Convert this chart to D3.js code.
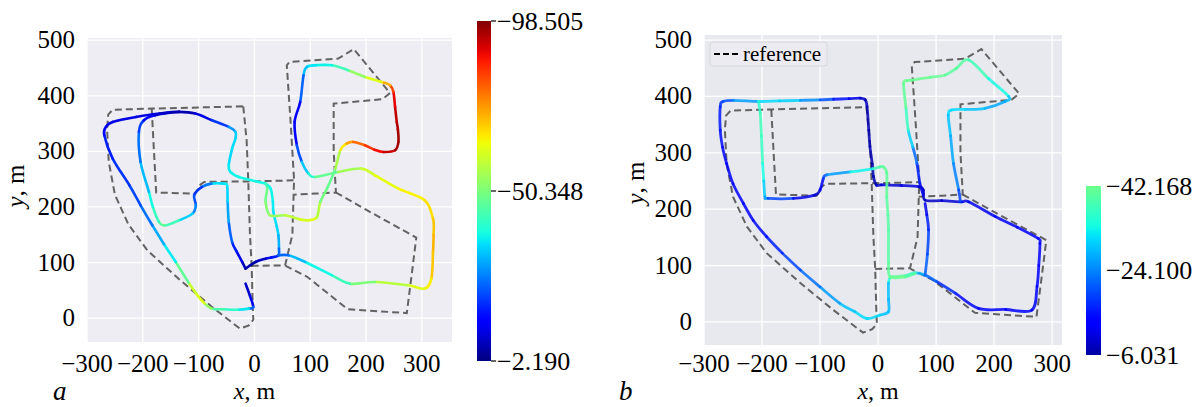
<!DOCTYPE html>
<html>
<head>
<meta charset="utf-8">
<script src="https://cdn.jsdelivr.net/npm/d3@7"></script>
<style>
  body { margin: 0; background: #fff; }
  text { font-family: "Liberation Serif", "Times New Roman", serif; fill: #000; }
</style>
</head>
<body>
<svg id="chart"></svg>
<script>
// ---- data (metres, value in colour-bar units) ----
var xTicks = [-300, -200, -100, 0, 100, 200, 300];
var yTicks = [0, 100, 200, 300, 400, 500];

// reference route, drawn dashed
var refOuter = [[-20, 381], [-14, 320], [-11, 246], [-8, 150], [-5, 95], [-3, 20], [-2, -3], [-10, -13], [-26, -19],
  [-77, 21], [-134, 69], [-192, 122], [-226, 169], [-250, 222], [-261, 281], [-264, 340], [-262, 366],
  [-254, 375], [-183, 377], [-100, 379], [-20, 381]];
var refInner = [[-184, 376], [-180, 300], [-176, 226], [-106, 224], [-97, 240], [-90, 245], [-11, 246], [40, 247], [70, 248]];
var refUpper = [[-5, 94], [55, 95], [68, 150], [71, 249], [65, 350], [58, 455], [63, 461], [150, 467], [178, 484],
  [243, 405], [230, 394], [142, 386], [142, 300], [146, 226], [110, 224], [70, 222]];
var refLowerRight = [[146, 226], [200, 195], [290, 145], [282, 80], [273, 9], [167, 16], [95, 74], [56, 94]];

// panel a trajectory pieces [x, y, value]
var trajA1 = [[-16, 62, -7], [-8, 40, -9], [-2, 20, -14], [-10, 17, -32], [-30, 15, -40], [-55, 16, -43], [-76, 17, -46],
  [-90, 27, -60], [-105, 45, -64], [-118, 64, -55], [-141, 101, -40], [-162, 133, -33], [-183, 167, -28],
  [-204, 203, -22], [-224, 239, -20], [-254, 287, -18], [-269, 329, -16], [-266, 344, -13], [-254, 353, -9],
  [-212, 362, -12], [-170, 368, -9], [-135, 371, -6], [-106, 368, -7], [-76, 356, -14], [-46, 344, -25],
  [-34, 335, -32], [-34, 323, -36], [-40, 305, -34], [-46, 275, -36], [-43, 263, -37], [-28, 254, -38],
  [8, 245, -38], [20, 242, -38]];
var trajA2 = [[20, 242, -38], [29, 233, -38], [33, 210, -37], [34, 191, -36], [40, 165, -35], [43, 149, -34],
  [44, 125, -28], [43, 113, -20], [30, 109, -14], [20, 107, -10], [2, 101, -6], [-16, 89, -5]];
var trajA3 = [[20, 242, -40], [23, 233, -47], [20, 209, -50], [28, 185, -53], [55, 185, -56], [80, 178, -60],
  [97, 176, -62], [112, 182, -62], [118, 209, -53], [130, 233, -46], [145, 269, -50], [154, 302, -62],
  [165, 314, -70], [177, 317, -76], [198, 311, -82], [215, 303, -87], [231, 299, -90], [252, 302, -95],
  [258, 317, -96], [257, 340, -95], [255, 353, -94], [252, 380, -92], [249, 407, -88], [243, 419, -78],
  [228, 425, -66], [198, 434, -58], [168, 446, -48], [139, 455, -38], [110, 455, -37], [94, 452, -35],
  [88, 437, -30], [82, 389, -17], [72, 353, -10], [76, 311, -16], [85, 281, -28], [97, 260, -38],
  [109, 254, -43], [150, 263, -52], [192, 269, -58], [216, 257, -62], [258, 233, -64], [305, 212, -66],
  [320, 179, -68], [321, 150, -71], [320, 119, -72], [317, 71, -67], [305, 53, -64], [275, 59, -60],
  [216, 65, -55], [171, 62, -46], [139, 77, -40], [91, 101, -36], [61, 113, -28], [43, 113, -20]];
var trajA4 = [[-16, 89, -5], [-22, 101, -8], [-32, 120, -14], [-40, 137, -20], [-46, 173, -27], [-48, 210, -33],
  [-49, 239, -36], [-55, 242, -37], [-77, 242, -34], [-94, 236, -18], [-108, 221, -20], [-105, 203, -24],
  [-111, 188, -30], [-135, 176, -38], [-159, 167, -48], [-171, 173, -45], [-182, 200, -40], [-189, 227, -36],
  [-204, 281, -28], [-207, 335, -22], [-198, 356, -18], [-178, 365, -10], [-150, 370, -7], [-135, 371, -6]];

// panel b trajectory pieces [x, y, value]
var trajB1 = [[21, 80, -40], [18, 69, -30], [18, 40, -28], [18, 18, -28], [3, 12, -30], [-19, 6, -32], [-40, 18, -30],
  [-66, 33, -28], [-100, 62, -24], [-134, 92, -21], [-165, 122, -17], [-192, 151, -15], [-215, 180, -14],
  [-232, 210, -13], [-250, 245, -14], [-261, 281, -14], [-268, 310, -14], [-272, 340, -15], [-272, 382, -16],
  [-267, 391, -18], [-249, 393, -22], [-206, 391, -30], [-170, 392, -32], [-134, 393, -28], [-100, 394, -22],
  [-77, 395, -18], [-50, 396, -12], [-31, 397, -9], [-22, 394, -8], [-19, 382, -7], [-16, 340, -7],
  [-14, 311, -7], [-10, 280, -7], [-8, 258, -7], [-3, 243, -8], [6, 243, -9], [40, 242, -10], [70, 240, -10],
  [78, 234, -8], [81, 216, -8], [110, 215, -9], [144, 213, -10], [156, 213, -11], [202, 187, -12],
  [240, 168, -12], [276, 148, -13], [279, 139, -13], [277, 100, -13], [274, 63, -13], [265, 21, -13],
  [220, 22, -13], [173, 24, -13], [133, 51, -15], [100, 72, -19], [81, 83, -24], [64, 87, -32], [47, 82, -40],
  [21, 80, -42]];
var trajB2 = [[-206, 391, -34], [-203, 370, -38], [-201, 330, -38], [-199, 281, -36], [-197, 250, -32],
  [-195, 222, -28], [-190, 219, -24], [-146, 219, -14], [-109, 225, -8], [-100, 234, -10], [-94, 255, -18],
  [-88, 261, -22], [-48, 266, -30], [-8, 272, -36], [3, 275, -40], [9, 275, -41], [15, 264, -41],
  [15, 222, -41], [17, 190, -40], [18, 163, -40], [18, 104, -40], [21, 80, -42], [47, 80, -42], [64, 86, -38]];
var trajB3 = [[81, 83, -22], [85, 120, -20], [87, 163, -18], [84, 190, -14], [81, 210, -8]];
var trajB4 = [[78, 225, -8], [72, 246, -14], [67, 281, -18], [60, 310, -26], [52, 340, -34], [48, 380, -40],
  [44, 423, -42], [50, 428, -42], [58, 429, -42], [90, 434, -42], [116, 438, -41], [135, 450, -40],
  [156, 465, -40], [190, 432, -36], [225, 400, -32], [219, 391, -26], [184, 379, -28], [150, 377, -30],
  [127, 376, -32], [121, 367, -30], [125, 330, -28], [130, 281, -26], [139, 234, -22], [142, 213, -16]];

var cbarA = [-98.505, -50.348, -2.190];
var cbarB = [-42.168, -24.100, -6.031];

// ---- setup ----
var svg = d3.select('#chart').attr('width', 1195).attr('height', 407);
var defs = svg.append('defs');

// matplotlib jet
var jetR = d3.scaleLinear().domain([0, 0.35, 0.66, 0.89, 1]).range([0, 0, 1, 1, 0.5]).clamp(true);
var jetG = d3.scaleLinear().domain([0, 0.125, 0.375, 0.64, 0.91, 1]).range([0, 0, 1, 1, 0, 0]).clamp(true);
var jetB = d3.scaleLinear().domain([0, 0.11, 0.34, 0.65, 1]).range([0.5, 1, 1, 0, 0]).clamp(true);
function jet(t) {
  return d3.rgb(255 * jetR(t), 255 * jetG(t), 255 * jetB(t)).formatHex();
}

var panels = [
  {
    box: { x0: 87, x1: 452, y0: 38, y1: 342 }, xDom: [-300, 354], yDom: [-43, 504],
    bg: '#ededf3', trajs: [trajA1, trajA2, trajA3, trajA4], lw: 2.6, op: 1,
    tScale: d3.scaleLinear().domain([-2.19, -98.505]).range([0, 1]),
    cbar: { x: 477, w: 14, y0: 21, y1: 361, vals: cbarA, tick: true, lx: 497 },
    letter: 'a', letterX: 53, yLabX: 24, yLabY: 186, legend: false
  },
  {
    box: { x0: 704, x1: 1062, y0: 35, y1: 345 }, xDom: [-300, 317], yDom: [-41, 509],
    bg: '#e8e8ef', trajs: [trajB1, trajB2, trajB3, trajB4], lw: 2.8, op: 0.85,
    tScale: d3.scaleLinear().domain([-6.031, -42.168]).range([0.03, 0.48]),
    cbar: { x: 1086, w: 15, y0: 186, y1: 355, vals: cbarB, tick: false, lx: 1106 },
    letter: 'b', letterX: 619, yLabX: 644, yLabY: 183, legend: true
  }
];

var refs = [refOuter, refInner, refUpper, refLowerRight];

panels.forEach(function (p, pi) {
  var b = p.box;
  var x = d3.scaleLinear().domain(p.xDom).range([b.x0, b.x1]);
  var y = d3.scaleLinear().domain(p.yDom).range([b.y1, b.y0]);
  var g = svg.append('g');

  // background + grid
  g.append('rect')
    .attr('x', b.x0).attr('y', b.y0)
    .attr('width', b.x1 - b.x0).attr('height', b.y1 - b.y0)
    .attr('fill', p.bg);
  g.selectAll('.gx').data(xTicks).enter().append('line')
    .attr('x1', d => x(d)).attr('x2', d => x(d))
    .attr('y1', b.y0).attr('y2', b.y1)
    .attr('stroke', '#fff').attr('stroke-width', 1.3);
  g.selectAll('.gy').data(yTicks).enter().append('line')
    .attr('x1', b.x0).attr('x2', b.x1)
    .attr('y1', d => y(d)).attr('y2', d => y(d))
    .attr('stroke', '#fff').attr('stroke-width', 1.3);

  // tick labels
  g.selectAll('.tx').data(xTicks).enter().append('text')
    .attr('x', d => x(d)).attr('y', 372)
    .attr('text-anchor', 'middle').attr('font-size', 25)
    .text(d => d < 0 ? '\u2212' + Math.abs(d) : d);
  g.selectAll('.ty').data(yTicks).enter().append('text')
    .attr('x', b.x0 - 12).attr('y', d => y(d) + 8)
    .attr('text-anchor', 'end').attr('font-size', 25)
    .text(d => d);

  // axis titles
  var xl = g.append('text').attr('x', x(0)).attr('y', 399)
    .attr('text-anchor', 'middle').attr('font-size', 24);
  xl.append('tspan').attr('font-style', 'italic').text('x');
  xl.append('tspan').text(', m');
  var yl = g.append('text')
    .attr('transform', 'translate(' + p.yLabX + ',' + p.yLabY + ') rotate(-90)')
    .attr('text-anchor', 'middle').attr('font-size', 25);
  yl.append('tspan').attr('font-style', 'italic').text('y');
  yl.append('tspan').text(', m');
  g.append('text').attr('x', p.letterX).attr('y', 400)
    .attr('font-size', 27).attr('font-style', 'italic').text(p.letter);

  // reference route
  var line = d3.line().x(d => x(d[0])).y(d => y(d[1]));
  g.selectAll('.ref').data(refs).enter().append('path')
    .attr('d', line)
    .attr('fill', 'none')
    .attr('stroke', '#4a4a4a').attr('stroke-opacity', 0.85)
    .attr('stroke-width', 2).attr('stroke-dasharray', '7,4');

  // coloured trajectories: one smooth bezier piece per segment
  p.trajs.forEach(function (tr) {
    var pts = tr.map(d => [x(d[0]), y(d[1]), d[2]]);
    var segs = [];
    for (var i = 0; i < pts.length - 1; i++) {
      var p0 = pts[Math.max(i - 1, 0)], p1 = pts[i], p2 = pts[i + 1], p3 = pts[Math.min(i + 2, pts.length - 1)];
      var c1 = [p1[0] + (p2[0] - p0[0]) / 6, p1[1] + (p2[1] - p0[1]) / 6];
      var c2 = [p2[0] - (p3[0] - p1[0]) / 6, p2[1] - (p3[1] - p1[1]) / 6];
      segs.push({
        d: 'M' + p1[0] + ',' + p1[1] + 'C' + c1 + ' ' + c2 + ' ' + p2[0] + ',' + p2[1],
        v: (p1[2] + p2[2]) / 2
      });
    }
    g.selectAll(null).data(segs).enter().append('path')
      .attr('d', d => d.d)
      .attr('fill', 'none')
      .attr('stroke', d => jet(p.tScale(d.v)))
      .attr('stroke-opacity', p.op)
      .attr('stroke-width', p.lw)
      .attr('stroke-linecap', 'round');
  });

  // colour bar
  var c = p.cbar;
  var cy = d3.scaleLinear().domain([c.vals[2], c.vals[0]]).range([c.y1, c.y0]);
  var grad = defs.append('linearGradient').attr('id', 'cb' + pi)
    .attr('x1', 0).attr('y1', 1).attr('x2', 0).attr('y2', 0);
  d3.range(0, 1.0001, 0.02).forEach(function (f) {
    var v = c.vals[2] + f * (c.vals[0] - c.vals[2]);
    grad.append('stop').attr('offset', f).attr('stop-color', jet(p.tScale(v)));
  });
  g.append('rect').attr('x', c.x).attr('y', c.y0)
    .attr('width', c.w).attr('height', c.y1 - c.y0)
    .attr('fill', 'url(#cb' + pi + ')');
  if (c.tick) {
    g.selectAll('.ct').data(c.vals).enter().append('line')
      .attr('x1', c.x + c.w).attr('x2', c.x + c.w + 5)
      .attr('y1', d => cy(d)).attr('y2', d => cy(d))
      .attr('stroke', '#000').attr('stroke-width', 1.2);
  }
  g.selectAll('.cl').data(c.vals).enter().append('text')
    .attr('x', c.lx).attr('y', d => cy(d) + 9)
    .attr('font-size', 26)
    .text(d => '\u2212' + Math.abs(d).toFixed(3));

  // legend
  if (p.legend) {
    g.append('rect').attr('x', 710).attr('y', 42).attr('width', 117).attr('height', 24)
      .attr('rx', 3).attr('fill', '#ebebf1').attr('stroke', '#d6d6dc');
    g.append('line').attr('x1', 714).attr('x2', 739).attr('y1', 54).attr('y2', 54)
      .attr('stroke', '#000').attr('stroke-width', 2).attr('stroke-dasharray', '6,3');
    g.append('text').attr('x', 743).attr('y', 61).attr('font-size', 21).text('reference');
  }
});
</script>
</body>
</html>
